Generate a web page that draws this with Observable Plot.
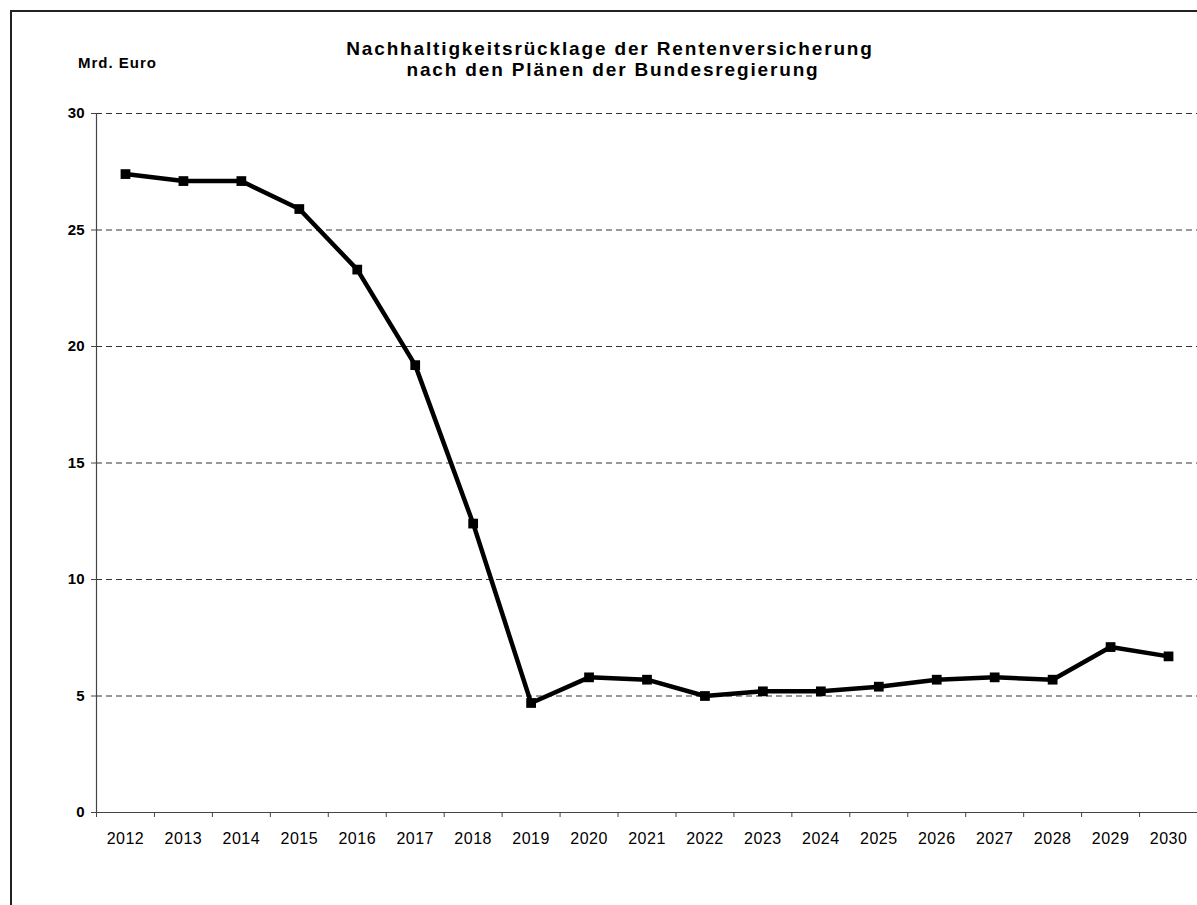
<!DOCTYPE html>
<html>
<head>
<meta charset="utf-8">
<script src="https://cdn.jsdelivr.net/npm/d3@7"></script>
<script src="https://cdn.jsdelivr.net/npm/@observablehq/plot@0.6"></script>
<style>
  html, body { margin: 0; padding: 0; background: white; }
  #wrap { position: relative; width: 1197px; height: 905px; overflow: hidden; }
  #frame { position: absolute; left: 10px; top: 10px; width: 1300px; height: 1000px;
           border-left: 2px solid #222; border-top: 2px solid #222; pointer-events: none; }
</style>
</head>
<body>
<div id="wrap"><div id="frame"></div></div>
<script>
const years = [2012, 2013, 2014, 2015, 2016, 2017, 2018, 2019, 2020, 2021, 2022, 2023, 2024, 2025, 2026, 2027, 2028, 2029, 2030];
const reserve = [27.4, 27.1, 27.1, 25.9, 23.3, 19.2, 12.4, 4.7, 5.8, 5.7, 5.0, 5.2, 5.2, 5.4, 5.7, 5.8, 5.7, 7.1, 6.7];
const yTicks = [0, 5, 10, 15, 20, 25, 30];
const titleLines = ["Nachhaltigkeitsrücklage der Rentenversicherung", "nach den Plänen der Bundesregierung"];
const unitLabel = "Mrd. Euro";

const data = years.map((year, i) => ({year, value: reserve[i]}));
const boundaries = years.map(y => y - 0.5).concat([years[years.length - 1] + 0.5]);

const chart = Plot.plot({
  width: 1197,
  height: 905,
  marginLeft: 96,
  marginRight: 0,
  marginTop: 113,
  marginBottom: 93,
  x: {domain: [years[0] - 0.5, years[years.length - 1] + 0.5], axis: null},
  y: {domain: [0, 30], axis: null},
  style: {fontFamily: "'Liberation Sans', Arial, sans-serif", background: "transparent", color: "black"},
  marks: [
    Plot.ruleY(yTicks.filter(d => d > 0), {stroke: "#333", strokeDasharray: "6,4", strokeWidth: 1}),
    Plot.ruleY([0], {stroke: "#444", strokeWidth: 1.2}),
    Plot.ruleX([years[0] - 0.5], {stroke: "#444", strokeWidth: 1.2}),
    Plot.axisY({ticks: yTicks, label: null, tickSize: 5, tickPadding: 7, fontSize: 15, fontWeight: "bold", tickFormat: d => String(d), stroke: "#444"}),
    Plot.axisX({ticks: boundaries, label: null, tickSize: 5, tickFormat: () => "", stroke: "#444"}),
    Plot.axisX({ticks: years, label: null, tickSize: 0, tickPadding: 20, fontSize: 16, tickFormat: d => String(d)}),
    Plot.line(data, {x: "year", y: "value", stroke: "black", strokeWidth: 4.5, strokeLinejoin: "round"}),
    Plot.dot(data, {x: "year", y: "value", symbol: "square", fill: "black", stroke: "none", r: 5.5})
  ]
});

chart.style.position = "absolute";
chart.style.left = "0px";
chart.style.top = "0px";
document.getElementById("wrap").appendChild(chart);

const svg = d3.select(chart);
svg.selectAll("g[aria-label='x-axis tick label'] text").attr("letter-spacing", "0.5");
const t = svg.append("g").attr("font-family", "'Liberation Sans', Arial, sans-serif").attr("font-weight", "bold").attr("fill", "black");
t.append("text").attr("x", 610).attr("y", 55).attr("text-anchor", "middle").attr("font-size", 19).attr("letter-spacing", 1.85).text(titleLines[0]);
t.append("text").attr("x", 613).attr("y", 76).attr("text-anchor", "middle").attr("font-size", 19).attr("letter-spacing", 1.85).text(titleLines[1]);
t.append("text").attr("x", 78).attr("y", 68).attr("text-anchor", "start").attr("font-size", 15).attr("letter-spacing", 1).text(unitLabel);
</script>
</body>
</html>
